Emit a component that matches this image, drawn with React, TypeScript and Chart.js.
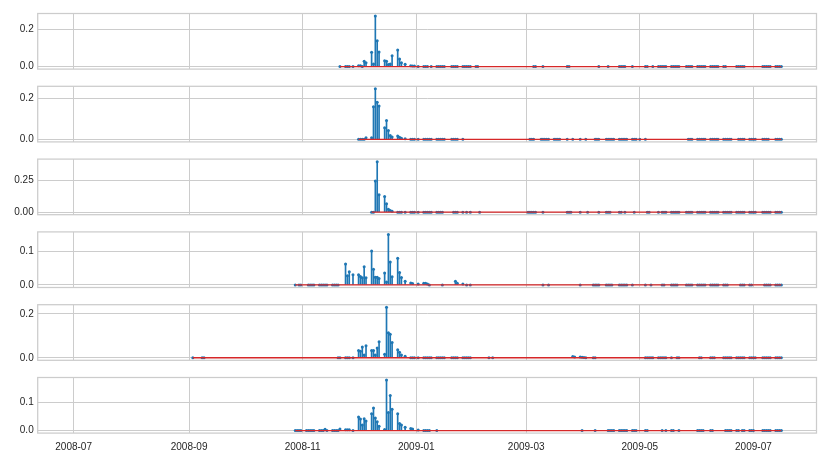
import React, { useEffect, useRef } from 'react';
import { Chart, registerables } from 'chart.js';

Chart.register(...registerables);

type Pt = [string, number];

const xTickDates = ['2008-07-01', '2008-09-01', '2008-11-01', '2009-01-01', '2009-03-01', '2009-05-01', '2009-07-01'];
const xRangeStart = '2008-06-11T17:00:00Z';
const xRangeEnd = '2009-08-03T21:00:00Z';

const series1: Pt[] = [
  ['2008-11-21', 0], ['2008-11-24', 0], ['2008-11-25', 0], ['2008-11-26', 0], ['2008-11-28', 0],
  ['2008-12-01', 0.005], ['2008-12-02', 0.004], ['2008-12-03', 0], ['2008-12-04', 0.029], ['2008-12-05', 0.02],
  ['2008-12-08', 0.077], ['2008-12-09', 0.014], ['2008-12-10', 0.273], ['2008-12-11', 0.139], ['2008-12-12', 0.079],
  ['2008-12-15', 0.032], ['2008-12-16', 0.029], ['2008-12-17', 0.011], ['2008-12-18', 0.014], ['2008-12-19', 0.059],
  ['2008-12-22', 0.089], ['2008-12-23', 0.041], ['2008-12-24', 0.021], ['2008-12-26', 0.012],
  ['2008-12-29', 0.005], ['2008-12-30', 0.003], ['2008-12-31', 0.003],
  ['2009-01-02', 0], ['2009-01-05', 0], ['2009-01-06', 0], ['2009-01-07', 0], ['2009-01-09', 0],
  ['2009-01-12', 0], ['2009-01-13', 0], ['2009-01-14', 0], ['2009-01-15', 0], ['2009-01-16', 0],
  ['2009-01-20', 0], ['2009-01-21', 0], ['2009-01-22', 0], ['2009-01-23', 0],
  ['2009-01-26', 0], ['2009-01-27', 0], ['2009-01-28', 0], ['2009-01-29', 0], ['2009-01-30', 0],
  ['2009-02-02', 0], ['2009-02-03', 0],
  ['2009-03-05', 0], ['2009-03-06', 0], ['2009-03-10', 0], ['2009-03-23', 0], ['2009-03-24', 0],
  ['2009-04-09', 0], ['2009-04-14', 0], ['2009-04-20', 0], ['2009-04-21', 0], ['2009-04-22', 0], ['2009-04-23', 0], ['2009-04-27', 0],
  ['2009-05-04', 0], ['2009-05-05', 0], ['2009-05-08', 0],
  ['2009-05-11', 0], ['2009-05-12', 0], ['2009-05-13', 0], ['2009-05-14', 0], ['2009-05-15', 0],
  ['2009-05-18', 0], ['2009-05-19', 0], ['2009-05-20', 0], ['2009-05-21', 0], ['2009-05-22', 0],
  ['2009-05-26', 0], ['2009-05-27', 0], ['2009-05-28', 0], ['2009-05-29', 0],
  ['2009-06-01', 0], ['2009-06-02', 0], ['2009-06-03', 0], ['2009-06-04', 0], ['2009-06-05', 0],
  ['2009-06-08', 0], ['2009-06-09', 0], ['2009-06-10', 0], ['2009-06-11', 0], ['2009-06-12', 0],
  ['2009-06-15', 0], ['2009-06-16', 0],
  ['2009-06-22', 0], ['2009-06-23', 0], ['2009-06-24', 0], ['2009-06-25', 0], ['2009-06-26', 0],
  ['2009-07-06', 0], ['2009-07-07', 0], ['2009-07-08', 0], ['2009-07-09', 0], ['2009-07-10', 0],
  ['2009-07-13', 0], ['2009-07-14', 0], ['2009-07-15', 0], ['2009-07-16', 0],
];

const series2: Pt[] = [
  ['2008-12-01', 0], ['2008-12-02', 0], ['2008-12-03', 0], ['2008-12-04', 0], ['2008-12-05', 0.008],
  ['2008-12-08', 0.008], ['2008-12-09', 0.159], ['2008-12-10', 0.246], ['2008-12-11', 0.181], ['2008-12-12', 0.162],
  ['2008-12-15', 0.056], ['2008-12-16', 0.092], ['2008-12-17', 0.043], ['2008-12-18', 0.019], ['2008-12-19', 0.011],
  ['2008-12-22', 0.016], ['2008-12-23', 0.01], ['2008-12-24', 0.006], ['2008-12-26', 0.003],
  ['2008-12-29', 0], ['2008-12-30', 0], ['2008-12-31', 0],
  ['2009-01-02', 0], ['2009-01-05', 0], ['2009-01-06', 0], ['2009-01-07', 0], ['2009-01-08', 0], ['2009-01-09', 0],
  ['2009-01-12', 0], ['2009-01-13', 0], ['2009-01-14', 0], ['2009-01-15', 0], ['2009-01-16', 0],
  ['2009-01-20', 0], ['2009-01-21', 0], ['2009-01-22', 0], ['2009-01-23', 0], ['2009-01-26', 0],
  ['2009-03-03', 0], ['2009-03-04', 0], ['2009-03-05', 0],
  ['2009-03-09', 0], ['2009-03-10', 0], ['2009-03-11', 0], ['2009-03-12', 0], ['2009-03-13', 0],
  ['2009-03-16', 0], ['2009-03-17', 0], ['2009-03-18', 0], ['2009-03-19', 0],
  ['2009-03-23', 0], ['2009-03-26', 0], ['2009-03-30', 0], ['2009-04-02', 0],
  ['2009-04-07', 0], ['2009-04-08', 0], ['2009-04-09', 0],
  ['2009-04-13', 0], ['2009-04-14', 0], ['2009-04-15', 0], ['2009-04-16', 0], ['2009-04-17', 0],
  ['2009-04-20', 0], ['2009-04-21', 0], ['2009-04-22', 0], ['2009-04-23', 0], ['2009-04-24', 0],
  ['2009-04-27', 0], ['2009-04-28', 0], ['2009-04-29', 0], ['2009-05-01', 0], ['2009-05-04', 0],
  ['2009-05-27', 0], ['2009-05-28', 0], ['2009-05-29', 0],
  ['2009-06-01', 0], ['2009-06-02', 0], ['2009-06-03', 0], ['2009-06-04', 0], ['2009-06-05', 0],
  ['2009-06-08', 0], ['2009-06-09', 0], ['2009-06-10', 0], ['2009-06-11', 0], ['2009-06-12', 0],
  ['2009-06-15', 0], ['2009-06-16', 0], ['2009-06-17', 0], ['2009-06-18', 0], ['2009-06-19', 0],
  ['2009-06-23', 0], ['2009-06-24', 0], ['2009-06-25', 0], ['2009-06-26', 0],
  ['2009-06-29', 0], ['2009-06-30', 0], ['2009-07-01', 0], ['2009-07-02', 0],
  ['2009-07-06', 0], ['2009-07-07', 0], ['2009-07-08', 0], ['2009-07-09', 0],
  ['2009-07-13', 0], ['2009-07-14', 0], ['2009-07-15', 0], ['2009-07-16', 0],
];

const series3: Pt[] = [
  ['2008-12-08', 0], ['2008-12-09', 0], ['2008-12-10', 0.247], ['2008-12-11', 0.4], ['2008-12-12', 0.137],
  ['2008-12-15', 0.124], ['2008-12-16', 0.066], ['2008-12-17', 0.024], ['2008-12-18', 0.013], ['2008-12-19', 0.008],
  ['2008-12-22', 0], ['2008-12-23', 0], ['2008-12-24', 0], ['2008-12-26', 0],
  ['2008-12-29', 0], ['2008-12-30', 0], ['2008-12-31', 0],
  ['2009-01-02', 0], ['2009-01-05', 0], ['2009-01-06', 0], ['2009-01-07', 0], ['2009-01-08', 0], ['2009-01-09', 0],
  ['2009-01-12', 0], ['2009-01-13', 0], ['2009-01-14', 0], ['2009-01-15', 0],
  ['2009-01-21', 0], ['2009-01-22', 0], ['2009-01-23', 0], ['2009-01-26', 0], ['2009-01-28', 0], ['2009-01-30', 0],
  ['2009-02-04', 0],
  ['2009-03-02', 0], ['2009-03-03', 0], ['2009-03-04', 0], ['2009-03-05', 0], ['2009-03-06', 0], ['2009-03-10', 0],
  ['2009-03-23', 0], ['2009-03-24', 0], ['2009-03-25', 0], ['2009-03-30', 0], ['2009-04-03', 0], ['2009-04-09', 0],
  ['2009-04-13', 0], ['2009-04-14', 0], ['2009-04-15', 0], ['2009-04-20', 0], ['2009-04-21', 0], ['2009-04-23', 0],
  ['2009-04-28', 0], ['2009-05-05', 0], ['2009-05-06', 0],
  ['2009-05-11', 0], ['2009-05-13', 0], ['2009-05-14', 0], ['2009-05-15', 0],
  ['2009-05-18', 0], ['2009-05-19', 0], ['2009-05-20', 0], ['2009-05-21', 0], ['2009-05-22', 0],
  ['2009-05-26', 0], ['2009-05-27', 0], ['2009-05-28', 0], ['2009-05-29', 0],
  ['2009-06-01', 0], ['2009-06-02', 0], ['2009-06-03', 0], ['2009-06-04', 0], ['2009-06-05', 0],
  ['2009-06-08', 0], ['2009-06-09', 0], ['2009-06-10', 0], ['2009-06-11', 0], ['2009-06-12', 0],
  ['2009-06-15', 0], ['2009-06-16', 0], ['2009-06-17', 0], ['2009-06-18', 0], ['2009-06-19', 0],
  ['2009-06-22', 0], ['2009-06-23', 0], ['2009-06-24', 0], ['2009-06-25', 0], ['2009-06-26', 0],
  ['2009-06-29', 0], ['2009-06-30', 0], ['2009-07-01', 0], ['2009-07-02', 0],
  ['2009-07-06', 0], ['2009-07-07', 0], ['2009-07-08', 0], ['2009-07-09', 0], ['2009-07-10', 0],
  ['2009-07-13', 0], ['2009-07-14', 0], ['2009-07-15', 0], ['2009-07-16', 0],
];

const series4: Pt[] = [
  ['2008-10-28', 0], ['2008-10-30', 0], ['2008-10-31', 0],
  ['2008-11-04', 0], ['2008-11-05', 0], ['2008-11-06', 0], ['2008-11-07', 0],
  ['2008-11-10', 0], ['2008-11-11', 0], ['2008-11-12', 0], ['2008-11-13', 0], ['2008-11-14', 0],
  ['2008-11-17', 0], ['2008-11-18', 0], ['2008-11-19', 0], ['2008-11-20', 0],
  ['2008-11-24', 0.062], ['2008-11-25', 0.027], ['2008-11-26', 0.039], ['2008-11-28', 0.03],
  ['2008-12-01', 0.03], ['2008-12-02', 0.025], ['2008-12-03', 0.021], ['2008-12-04', 0.054], ['2008-12-05', 0.021],
  ['2008-12-08', 0.1], ['2008-12-09', 0.046], ['2008-12-10', 0.023], ['2008-12-11', 0.023], ['2008-12-12', 0.019],
  ['2008-12-15', 0.035], ['2008-12-16', 0.009], ['2008-12-17', 0.149], ['2008-12-18', 0.068], ['2008-12-19', 0.024],
  ['2008-12-22', 0.079], ['2008-12-23', 0.037], ['2008-12-24', 0.022], ['2008-12-26', 0.011],
  ['2008-12-29', 0.006], ['2008-12-30', 0.004], ['2009-01-02', 0.003],
  ['2009-01-05', 0.005], ['2009-01-06', 0.005], ['2009-01-07', 0.003], ['2009-01-08', 0], ['2009-01-15', 0],
  ['2009-01-22', 0.011], ['2009-01-23', 0.005], ['2009-01-26', 0.003], ['2009-01-28', 0], ['2009-01-30', 0],
  ['2009-03-10', 0], ['2009-03-13', 0], ['2009-03-30', 0],
  ['2009-04-06', 0], ['2009-04-07', 0], ['2009-04-08', 0], ['2009-04-09', 0],
  ['2009-04-13', 0], ['2009-04-14', 0], ['2009-04-15', 0], ['2009-04-16', 0],
  ['2009-04-20', 0], ['2009-04-21', 0], ['2009-04-22', 0], ['2009-04-23', 0], ['2009-04-24', 0],
  ['2009-04-27', 0], ['2009-05-04', 0], ['2009-05-07', 0], ['2009-05-13', 0], ['2009-05-14', 0],
  ['2009-05-18', 0], ['2009-05-19', 0], ['2009-05-20', 0], ['2009-05-21', 0],
  ['2009-05-26', 0], ['2009-05-27', 0], ['2009-05-28', 0], ['2009-05-29', 0],
  ['2009-06-01', 0], ['2009-06-02', 0], ['2009-06-03', 0], ['2009-06-04', 0], ['2009-06-05', 0],
  ['2009-06-08', 0], ['2009-06-09', 0], ['2009-06-10', 0], ['2009-06-11', 0], ['2009-06-12', 0],
  ['2009-06-15', 0], ['2009-06-16', 0], ['2009-06-17', 0],
  ['2009-06-24', 0], ['2009-06-25', 0], ['2009-06-26', 0], ['2009-06-29', 0], ['2009-06-30', 0],
  ['2009-07-07', 0], ['2009-07-08', 0], ['2009-07-09', 0], ['2009-07-10', 0],
  ['2009-07-13', 0], ['2009-07-14', 0], ['2009-07-15', 0], ['2009-07-16', 0],
];

const series5: Pt[] = [
  ['2008-09-03', 0], ['2008-09-08', 0], ['2008-09-09', 0],
  ['2008-11-20', 0], ['2008-11-21', 0], ['2008-11-24', 0], ['2008-11-25', 0], ['2008-11-26', 0], ['2008-11-28', 0],
  ['2008-12-01', 0.033], ['2008-12-02', 0.03], ['2008-12-03', 0.049], ['2008-12-04', 0.013], ['2008-12-05', 0.055],
  ['2008-12-08', 0.033], ['2008-12-09', 0.033], ['2008-12-10', 0.013], ['2008-12-11', 0.044], ['2008-12-12', 0.073],
  ['2008-12-15', 0.016], ['2008-12-16', 0.23], ['2008-12-17', 0.114], ['2008-12-18', 0.107], ['2008-12-19', 0.07],
  ['2008-12-22', 0.036], ['2008-12-23', 0.025], ['2008-12-24', 0.013], ['2008-12-26', 0.007],
  ['2008-12-29', 0], ['2008-12-30', 0], ['2008-12-31', 0],
  ['2009-01-02', 0], ['2009-01-05', 0], ['2009-01-06', 0], ['2009-01-07', 0], ['2009-01-08', 0], ['2009-01-09', 0],
  ['2009-01-12', 0], ['2009-01-13', 0], ['2009-01-14', 0], ['2009-01-15', 0], ['2009-01-16', 0],
  ['2009-01-20', 0], ['2009-01-21', 0], ['2009-01-22', 0], ['2009-01-23', 0],
  ['2009-01-26', 0], ['2009-01-27', 0], ['2009-01-28', 0], ['2009-01-29', 0], ['2009-01-30', 0],
  ['2009-02-09', 0], ['2009-02-11', 0],
  ['2009-03-26', 0.006], ['2009-03-27', 0.004], ['2009-03-30', 0.003], ['2009-03-31', 0.002], ['2009-04-01', 0.001],
  ['2009-04-02', 0], ['2009-04-06', 0], ['2009-04-07', 0],
  ['2009-05-04', 0], ['2009-05-05', 0], ['2009-05-06', 0], ['2009-05-07', 0], ['2009-05-08', 0],
  ['2009-05-11', 0], ['2009-05-12', 0], ['2009-05-13', 0], ['2009-05-14', 0], ['2009-05-15', 0],
  ['2009-05-18', 0], ['2009-05-21', 0], ['2009-05-22', 0],
  ['2009-06-02', 0], ['2009-06-03', 0], ['2009-06-08', 0], ['2009-06-09', 0], ['2009-06-10', 0],
  ['2009-06-15', 0], ['2009-06-16', 0], ['2009-06-17', 0], ['2009-06-18', 0], ['2009-06-19', 0],
  ['2009-06-22', 0], ['2009-06-23', 0], ['2009-06-24', 0], ['2009-06-25', 0], ['2009-06-26', 0],
  ['2009-06-29', 0], ['2009-06-30', 0], ['2009-07-01', 0], ['2009-07-02', 0],
  ['2009-07-06', 0], ['2009-07-07', 0], ['2009-07-08', 0], ['2009-07-09', 0], ['2009-07-10', 0],
  ['2009-07-13', 0], ['2009-07-14', 0], ['2009-07-15', 0], ['2009-07-16', 0],
];

const series6: Pt[] = [
  ['2008-10-28', 0], ['2008-10-29', 0], ['2008-10-30', 0], ['2008-10-31', 0],
  ['2008-11-03', 0], ['2008-11-04', 0], ['2008-11-05', 0], ['2008-11-06', 0], ['2008-11-07', 0],
  ['2008-11-10', 0], ['2008-11-11', 0], ['2008-11-12', 0], ['2008-11-13', 0.005], ['2008-11-14', 0],
  ['2008-11-17', 0], ['2008-11-18', 0], ['2008-11-19', 0], ['2008-11-20', 0], ['2008-11-21', 0.006],
  ['2008-11-24', 0.003], ['2008-11-25', 0.003], ['2008-11-26', 0.003], ['2008-11-28', 0],
  ['2008-12-01', 0.048], ['2008-12-02', 0.041], ['2008-12-03', 0.02], ['2008-12-04', 0.042], ['2008-12-05', 0.034],
  ['2008-12-08', 0.06], ['2008-12-09', 0.08], ['2008-12-10', 0.045], ['2008-12-11', 0.031], ['2008-12-12', 0.015],
  ['2008-12-15', 0.004], ['2008-12-16', 0.18], ['2008-12-17', 0.064], ['2008-12-18', 0.125], ['2008-12-19', 0.076],
  ['2008-12-22', 0.06], ['2008-12-23', 0.025], ['2008-12-24', 0.02], ['2008-12-26', 0.012],
  ['2008-12-29', 0.007], ['2008-12-30', 0.006], ['2009-01-02', 0.002],
  ['2009-01-05', 0], ['2009-01-06', 0], ['2009-01-07', 0], ['2009-01-08', 0], ['2009-01-12', 0],
  ['2009-03-31', 0], ['2009-04-07', 0], ['2009-04-14', 0], ['2009-04-15', 0], ['2009-04-16', 0], ['2009-04-17', 0],
  ['2009-04-20', 0], ['2009-04-21', 0], ['2009-04-22', 0], ['2009-04-23', 0], ['2009-04-24', 0],
  ['2009-04-27', 0], ['2009-04-28', 0], ['2009-04-29', 0], ['2009-05-04', 0], ['2009-05-05', 0],
  ['2009-05-13', 0], ['2009-05-15', 0], ['2009-05-18', 0], ['2009-05-19', 0], ['2009-05-22', 0],
  ['2009-06-01', 0], ['2009-06-02', 0], ['2009-06-03', 0], ['2009-06-04', 0], ['2009-06-08', 0], ['2009-06-09', 0],
  ['2009-06-16', 0], ['2009-06-17', 0], ['2009-06-18', 0], ['2009-06-19', 0],
  ['2009-06-22', 0], ['2009-06-23', 0], ['2009-06-25', 0], ['2009-06-26', 0],
  ['2009-06-29', 0], ['2009-06-30', 0], ['2009-07-01', 0],
  ['2009-07-06', 0], ['2009-07-07', 0], ['2009-07-08', 0], ['2009-07-09', 0], ['2009-07-10', 0],
  ['2009-07-13', 0], ['2009-07-14', 0], ['2009-07-15', 0], ['2009-07-16', 0],
];

const allSeries = [series1, series2, series3, series4, series5, series6];
const yTickValues = [[0, 0.2], [0, 0.2], [0, 0.25], [0, 0.1], [0, 0.2], [0, 0.1]];
const yTickDecimals = [1, 1, 2, 1, 1, 1];

const W = 830;
const H = 461;
const PLOT_LEFT = 37.7;
const PLOT_RIGHT = 816.5;
const FIRST_TOP = 13.5;
const PITCH = 72.8;
const PLOT_H = 55.6;
const FONT = "'Liberation Sans', Arial, sans-serif";
const GRID = '#cccccc';
const TEXT = '#262626';
const BLUE = '#1f77b4';
const RED = '#d62728';

const toMs = (d: string) => Date.parse(d.length === 10 ? d + 'T00:00:00Z' : d);
const fmtMonth = (v: number) => {
  const d = new Date(v);
  return d.getUTCFullYear() + '-' + String(d.getUTCMonth() + 1).padStart(2, '0');
};

const framePlugin = {
  id: 'frame',
  afterDraw(chart: any) {
    const { ctx, chartArea } = chart;
    ctx.save();
    ctx.strokeStyle = GRID;
    ctx.lineWidth = 1.25;
    ctx.strokeRect(chartArea.left, chartArea.top, chartArea.right - chartArea.left, chartArea.bottom - chartArea.top);
    ctx.restore();
  },
};

function Panel({ idx }: { idx: number }) {
  const ref = useRef<HTMLCanvasElement>(null);
  const top = FIRST_TOP + idx * PITCH;
  const bottom = top + PLOT_H;
  const last = idx === allSeries.length - 1;
  const cTop = Math.floor(top - 8);
  const cBottom = last ? H : Math.ceil(bottom + 8);
  const cH = cBottom - cTop;

  useEffect(() => {
    const series = allSeries[idx];
    const pts = series.map(([d, v]) => ({ x: toMs(d), y: v }));
    const xs = pts.map((p) => p.x);
    const maxV = Math.max(...series.map((p) => p[1]));
    const margin = maxV * 0.05;
    const dec = yTickDecimals[idx];
    const yt = yTickValues[idx];
    const chart = new Chart(ref.current as HTMLCanvasElement, {
      type: 'bar',
      data: {
        datasets: [
          {
            type: 'line',
            data: [{ x: Math.min(...xs), y: 0 }, { x: Math.max(...xs), y: 0 }],
            borderColor: RED,
            borderWidth: 1.3,
            pointRadius: 0,
            order: 0,
          } as any,
          {
            type: 'line',
            data: pts,
            showLine: false,
            pointRadius: 1.5,
            pointBackgroundColor: BLUE,
            pointBorderColor: BLUE,
            pointBorderWidth: 0,
            order: 1,
          } as any,
          {
            type: 'bar',
            data: pts,
            backgroundColor: BLUE,
            barThickness: 1,
            borderWidth: 0,
            order: 2,
          } as any,
        ],
      },
      options: {
        responsive: false,
        animation: false,
        devicePixelRatio: 1,
        events: [],
        layout: {
          padding: { left: 0, right: W - PLOT_RIGHT, top: top - cTop, bottom: last ? 0 : cBottom - bottom },
        },
        plugins: { legend: { display: false }, tooltip: { enabled: false } },
        scales: {
          x: {
            type: 'linear',
            bounds: 'data',
            min: toMs(xRangeStart),
            max: toMs(xRangeEnd),
            offset: false,
            grid: { color: GRID, lineWidth: 1, drawTicks: false, offset: false },
            border: { display: false },
            ticks: {
              display: last,
              padding: 8,
              color: TEXT,
              font: { family: FONT, size: 10 },
              maxRotation: 0,
              autoSkip: false,
              callback: (v: any) => fmtMonth(Number(v)),
            },
            afterBuildTicks: (s: any) => {
              s.ticks = xTickDates.map((d) => ({ value: toMs(d) }));
            },
            afterFit: (s: any) => {
              s.height = last ? cBottom - bottom : 0;
              s.paddingLeft = 0;
              s.paddingRight = 0;
            },
          },
          y: {
            type: 'linear',
            bounds: 'data',
            min: -margin,
            max: maxV + margin,
            grid: { color: GRID, lineWidth: 1, drawTicks: false },
            border: { display: false },
            ticks: {
              padding: 4,
              color: TEXT,
              font: { family: FONT, size: 10 },
              callback: (v: any) => Number(v).toFixed(dec),
            },
            afterBuildTicks: (s: any) => {
              s.ticks = yt.map((v) => ({ value: v }));
            },
            afterFit: (s: any) => {
              s.width = PLOT_LEFT;
              s.paddingTop = 0;
              s.paddingBottom = 0;
            },
          },
        },
      } as any,
      plugins: [framePlugin],
    });
    return () => chart.destroy();
  }, []);

  return (
    <canvas
      ref={ref}
      width={W}
      height={cH}
      style={{ position: 'absolute', left: 0, top: cTop, width: W, height: cH }}
    />
  );
}

export default function App() {
  return (
    <div style={{ position: 'fixed', left: 0, top: 0, width: W, height: H, background: '#ffffff' }}>
      {allSeries.map((_, i) => (
        <Panel key={i} idx={i} />
      ))}
    </div>
  );
}
